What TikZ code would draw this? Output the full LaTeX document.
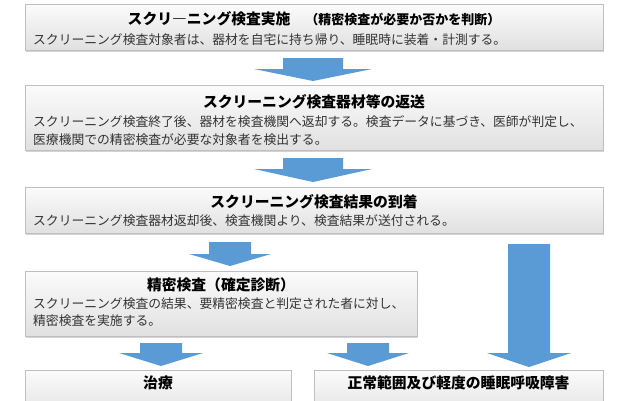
\documentclass[tikz,border=0pt]{standalone}
\usepackage{fontspec}
\newfontfamily\jp{Noto Sans CJK JP}
\usetikzlibrary{shadows}
\definecolor{arrowblue}{RGB}{91,155,213}
\tikzset{
    box/.style={draw=gray!50, top color=gray!3, bottom color=gray!24, drop shadow={opacity=0.35, shadow xshift=0.5pt, shadow yshift=-2pt}, inner sep=0pt}, % grey panel of one step
    title/.style={font=\jp\bfseries\fontsize{14.8}{16}\selectfont, inner sep=0pt}, % heading of a step
    body/.style={font=\jp\fontsize{12.8}{14}\selectfont, text=black!80, anchor=west, inner sep=0pt}, % text lines of a step
}
% block arrow: x, top, start of head, tip, half shaft, half head
\newcommand{\blockarrow}[6]{%
    \fill[arrowblue] (#1-#5,#2) -- (#1+#5,#2) -- (#1+#5,#3) -- (#1+#6,#3) -- (#1,#4) -- (#1-#6,#3) -- (#1-#5,#3) -- cycle;}

\begin{document}
\begin{tikzpicture}[x=1pt, y=-1pt]
            \useasboundingbox (0,0) rectangle (640,400);
            \clip (0,0) rectangle (640,400);

            \node[box, minimum width=578pt, minimum height=46pt] (b1) at (314,27) {};
            \node[box, minimum width=578pt, minimum height=65pt] (b2) at (314,117.5) {};
            \node[box, minimum width=578pt, minimum height=46pt] (b3) at (314,210) {};
            \node[box, minimum width=392pt, minimum height=65pt] (b4) at (221,303.5) {};
            \node[box, minimum width=266pt, minimum height=50pt] (b5) at (158,395) {};
            \node[box, minimum width=289pt, minimum height=50pt] (b6) at (458.5,395) {};

            \node[title] (t1) at (314,19) {スクリ―ニング検査実施\quad{\fontsize{13}{14}\selectfont （精密検査が必要か否かを判断）}};
            \node[body] (l1) at (33,40) {スクリーニング検査対象者は、器材を自宅に持ち帰り、睡眠時に装着・計測する。};

            \node[title] (t2) at (314,102) {スクリーニング検査器材等の返送};
            \node[body] (l2a) at (33,122) {スクリーニング検査終了後、器材を検査機関へ返却する。検査データに基づき、医師が判定し、};
            \node[body] (l2b) at (33,140) {医療機関での精密検査が必要な対象者を検出する。};

            \node[title] (t3) at (314,202) {スクリーニング検査結果の到着};
            \node[body] (l3) at (33,221) {スクリーニング検査器材返却後、検査機関より、検査結果が送付される。};

            \node[title] (t4) at (221,285) {精密検査（確定診断）};
            \node[body] (l4a) at (33,304) {スクリーニング検査の結果、要精密検査と判定された者に対し、};
            \node[body] (l4b) at (33,321) {精密検査を実施する。};

            \node[title] (t5) at (158,383) {治療};
            \node[title] (t6) at (458.5,383) {正常範囲及び軽度の睡眠呼吸障害};

            \blockarrow{313}{58}{69}{81}{30}{59}
            \blockarrow{313}{158}{169}{182}{30}{59}
            \blockarrow{230}{242}{254}{266}{21}{41}
            \blockarrow{529}{244}{353}{367}{21}{42}
            \blockarrow{161}{343}{353}{366}{21}{42}
            \blockarrow{368}{343}{353}{366}{21}{41}
\end{tikzpicture}
\end{document}
